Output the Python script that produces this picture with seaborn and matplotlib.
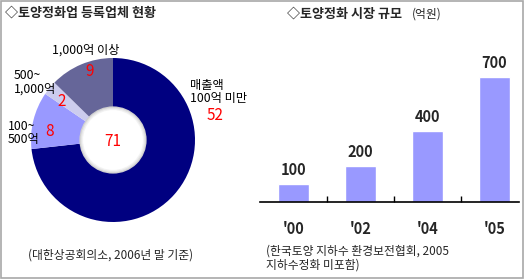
import matplotlib
matplotlib.use("Agg")
import matplotlib.pyplot as plt
import seaborn as sns
import pandas as pd
from matplotlib.patches import Circle, Rectangle

sns.set_theme(style="white")
plt.rcParams['font.family'] = ['Noto Sans CJK KR', 'DejaVu Sans']

# Pie data
pie_labels = ["매출액\n100억 미만", "100~\n500억", "500~\n1,000억", "1,000억 이상"]
pie_values = [52, 8, 2, 9]
pie_colors = ["#000080", "#9999FF", "#CCCCEE", "#666699"]
pie_total = 71

# Bar data
years = ["'00", "'02", "'04", "'05"]
market = [100, 200, 400, 700]
bar_color = "#9999FF"

W, H = 524, 279
fig = plt.figure(figsize=(W / 100, H / 100), dpi=100)

def fx(px):
    return px / W

def fy(py):
    return 1 - py / H

# border
fig.add_artist(Rectangle((0.001, 0.002), 0.997, 0.995, transform=fig.transFigure,
                         fill=False, edgecolor="#A8A8A8", linewidth=1.2))

# ---- Pie ----
cx, cy, r = 113, 140, 82
axp = fig.add_axes([fx(cx - r), fy(cy + r), fx(2 * r), (2 * r) / H])
axp.pie(pie_values, colors=pie_colors, startangle=90, counterclock=False,
        radius=1, wedgeprops=dict(linewidth=0))
axp.set_xlim(-1, 1)
axp.set_ylim(-1, 1)
axp.set_aspect("equal")
axp.axis("off")
# hole with soft shadow
for rr, c in [(0.41, "#D0D0D0"), (0.395, "#E4E4E4"), (0.38, "#F2F2F2"), (0.365, "white")]:
    axp.add_patch(Circle((0, 0), rr, facecolor=c, edgecolor="none"))
axp.text(0, -0.02, str(pie_total), color="red", fontsize=11, ha="center", va="center")

# pie labels (figure pixel positions)
lab_pos = [(190, 92, "left"), (8, 133, "left"), (14, 82, "left"), (52, 50, "left")]
num_pos = [(215, 116), (50, 131), (62, 101), (90, 72)]
for (x, y, ha), lab in zip(lab_pos, pie_labels):
    fig.text(fx(x), fy(y), lab, fontsize=8.8, ha=ha, va="center", color="black",
             linespacing=1.05)
for (x, y), v in zip(num_pos, pie_values):
    fig.text(fx(x), fy(y), str(v), fontsize=11, ha="center", va="center", color="red")

fig.text(fx(5), fy(13), "◇토양정화업 등록업체 현황", fontsize=9.4, fontweight="bold",
         ha="left", va="center")
fig.text(fx(28), fy(255), "(대한상공회의소, 2006년 말 기준)", fontsize=8.5,
         ha="left", va="center")

# ---- Bars ----
base_y, top_y = 202, 60
left_px, right_px = 260, 519
scale = 67.0
ymax = (base_y - top_y) / 0.178
axb = fig.add_axes([fx(left_px), fy(base_y), fx(right_px - left_px), (base_y - top_y) / H])
df = pd.DataFrame({"year": years, "value": market})
sns.barplot(data=df, x="year", y="value", color=bar_color, saturation=1,
            width=0.46, ax=axb)
axb.set_xlim(-0.5, (right_px - left_px) / scale - 0.5)
axb.set_ylim(0, ymax)
axb.set_xlabel("")
axb.set_ylabel("")
axb.set_yticks([])
for s in ["top", "right", "left"]:
    axb.spines[s].set_visible(False)
axb.spines["bottom"].set_color("black")
axb.spines["bottom"].set_linewidth(1.2)
axb.set_facecolor("none")
axb.tick_params(axis="x", which="major", length=0, pad=14, labelsize=10.5)
for t in axb.get_xticklabels():
    t.set_fontweight("bold")
axb.set_xticks([0.5, 1.5, 2.5], minor=True)
axb.tick_params(axis="x", which="minor", direction="in", length=4, width=1,
                color="black", bottom=True)
for i, v in enumerate(market):
    axb.text(i, v + 35, str(v), ha="center", va="bottom", fontsize=10.5,
             fontweight="bold")

fig.text(fx(287), fy(14), "◇토양정화 시장 규모", fontsize=9.4, fontweight="bold",
         ha="left", va="center")
fig.text(fx(412), fy(14), "(억원)", fontsize=8.5, ha="left", va="center")
fig.text(fx(266), fy(258), "(한국토양 지하수 환경보전협회, 2005\n지하수정화 미포함)",
         fontsize=8.5, ha="left", va="center", linespacing=1.1)

fig.savefig("out.png", dpi=100, facecolor="white")
